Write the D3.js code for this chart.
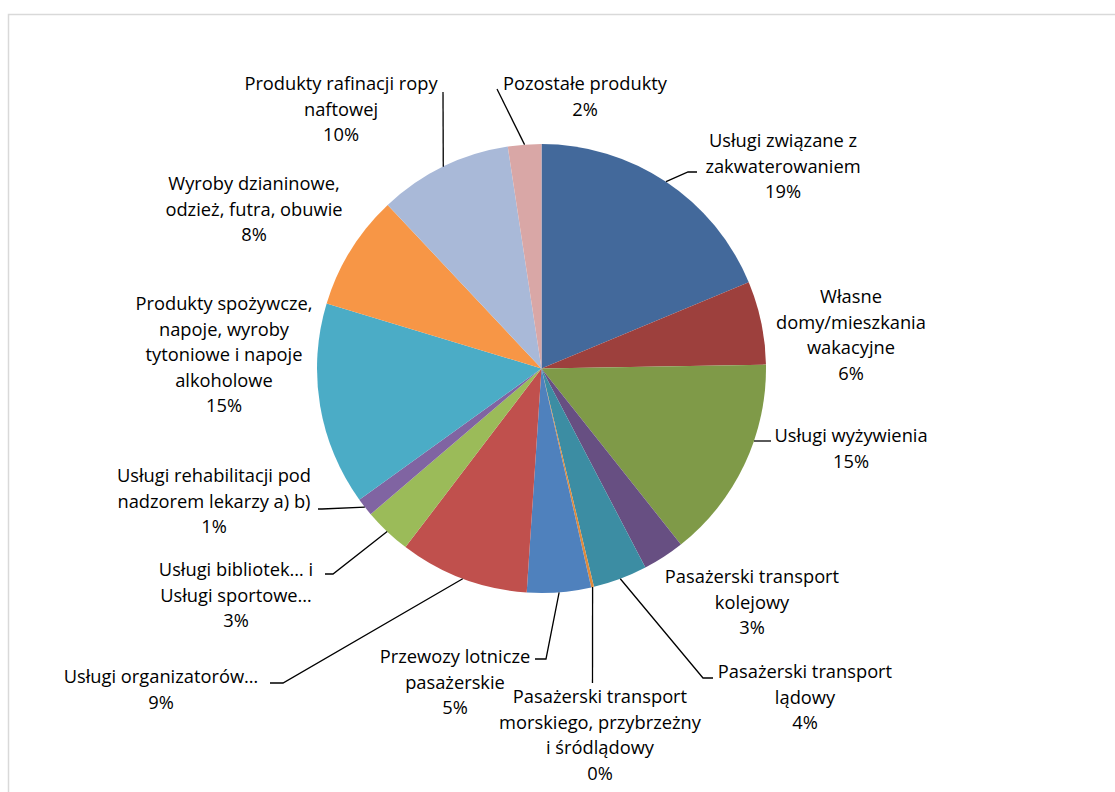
<!DOCTYPE html>
<html>
<head>
<meta charset="utf-8">
<script src="https://cdn.jsdelivr.net/npm/d3@7"></script>
<style>
  html, body { margin: 0; padding: 0; background: #ffffff; }
  svg { display: block; }
  text { font-family: "Open Sans", Lato, "Noto Sans", sans-serif; fill: #000; }
</style>
</head>
<body>
<svg id="chart" width="1115" height="792"></svg>
<script>
// ---- data ----
const categories = [
  "Usługi związane z\nzakwaterowaniem",
  "Własne\ndomy/mieszkania\nwakacyjne",
  "Usługi wyżywienia",
  "Pasażerski transport\nkolejowy",
  "Pasażerski transport\nlądowy",
  "Pasażerski transport\nmorskiego, przybrzeżny\ni śródlądowy",
  "Przewozy lotnicze\npasażerskie",
  "Usługi organizatorów…",
  "Usługi bibliotek… i\nUsługi sportowe…",
  "Usługi rehabilitacji pod\nnadzorem lekarzy a) b)",
  "Produkty spożywcze,\nnapoje, wyroby\ntytoniowe i napoje\nalkoholowe",
  "Wyroby dzianinowe,\nodzież, futra, obuwie",
  "Produkty rafinacji ropy\nnaftowej",
  "Pozostałe produkty"
];
const values = [18.7, 6.0, 14.6, 3.0, 3.9, 0.2, 4.6, 9.3, 3.4, 1.3, 14.6, 8.3, 9.6, 2.4];

// ---- styles / layout ----
const colors = ["#43699B", "#9D403D", "#7F9A48", "#674F82", "#3C8DA3", "#DF8A3C", "#4F81BD",
                "#C0504D", "#9BBB59", "#8064A2", "#4BACC6", "#F79646", "#A9B9D8", "#D9A7A6"];
// label centre (x, y of first line) and leader line elbow/end (null = no leader)
// horizontal: leader runs horizontally from the pie edge at the given y
const labelLayout = [
  {x: 783, y: 141, leader: [[688, 172], [697, 172]]},
  {x: 851, y: 297, leader: null},
  {x: 851, y: 436, leader: [[771, 441]], horizontal: true},
  {x: 752, y: 577, leader: null},
  {x: 805, y: 672, leader: [[703, 678], [713, 678]]},
  {x: 600, y: 697, leader: [[592.5, 683]]},
  {x: 455, y: 657, leader: [[546, 659], [535, 659]]},
  {x: 161, y: 677, leader: [[283, 683], [270, 683]]},
  {x: 236, y: 570, leader: [[333, 574], [325, 574]]},
  {x: 214, y: 476, leader: [[322, 509], [318, 509]]},
  {x: 224, y: 304, leader: null},
  {x: 254, y: 184, leader: null},
  {x: 341, y: 84, leader: [[443, 92]]},
  {x: 585, y: 84, leader: [[497, 89]]}
];

const cx = 541.5, cy = 368.5, R = 224.5;
const fontSize = 18.3, lineH = 25.5;

const svg = d3.select("#chart");

// outer frame
svg.append("rect")
  .attr("x", 8.5).attr("y", 14.5)
  .attr("width", 1110).attr("height", 800)
  .attr("fill", "#fff")
  .attr("stroke", "#d9d9d9").attr("stroke-width", 1.5);

const total = d3.sum(values);
const pie = d3.pie().sort(null).value(d => d)(values);
const arc = d3.arc().innerRadius(0).outerRadius(R);

const g = svg.append("g").attr("transform", `translate(${cx},${cy})`);
g.selectAll("path.slice").data(pie).join("path")
  .attr("class", "slice")
  .attr("d", arc)
  .attr("fill", (d, i) => colors[i]);

// leader lines
const leaderG = svg.append("g");
pie.forEach((d, i) => {
  const lay = labelLayout[i];
  if (!lay.leader) return;
  let start;
  if (lay.horizontal) {
    const yy = lay.leader[0][1];
    start = [cx + Math.sqrt(R * R - (yy - cy) * (yy - cy)), yy];
  } else {
    const a = (d.startAngle + d.endAngle) / 2;
    start = [cx + R * Math.sin(a), cy - R * Math.cos(a)];
  }
  const pts = [start, ...lay.leader];
  leaderG.append("path")
    .attr("d", d3.line()(pts))
    .attr("fill", "none")
    .attr("stroke", "#000")
    .attr("stroke-width", 1.3);
});

// labels
const labelG = svg.append("g");
pie.forEach((d, i) => {
  const lay = labelLayout[i];
  const lines = categories[i].split("\n");
  lines.push(Math.round(values[i] / total * 100) + "%");
  const t = labelG.append("text")
    .attr("text-anchor", "middle")
    .attr("font-size", fontSize);
  lines.forEach((ln, k) => {
    t.append("tspan")
      .attr("x", lay.x)
      .attr("y", lay.y + k * lineH)
      .attr("dy", "0.35em")
      .text(ln);
  });
});
</script>
</body>
</html>
